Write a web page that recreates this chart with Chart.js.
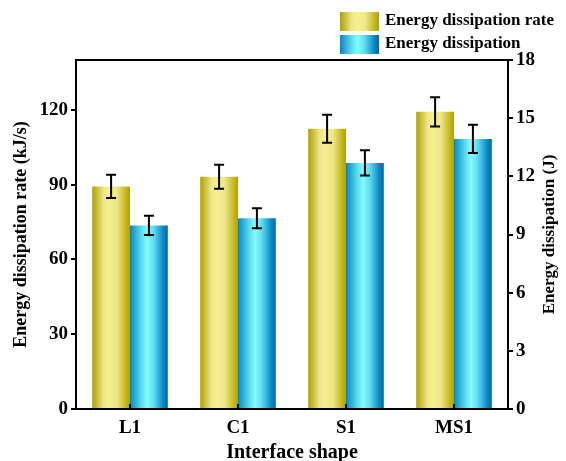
<!DOCTYPE html>
<html>
<head>
<meta charset="utf-8">
<script src="https://cdn.jsdelivr.net/npm/chart.js@4/dist/chart.umd.min.js"></script>
<style>
  html, body { margin: 0; padding: 0; background: #fff; }
  #wrap { width: 566px; height: 461px; }
</style>
</head>
<body>
<div id="wrap"><canvas id="chart" width="566" height="461"></canvas></div>
<script>
// data
const categories = ["L1", "C1", "S1", "MS1"];
const rateValues = [89.3, 93.2, 112.4, 119.2];
const rateErrors = [4.7, 4.8, 5.6, 5.9];
const energyValues = [9.47, 9.84, 12.69, 13.93];
const energyErrors = [0.5, 0.52, 0.65, 0.73];
const leftTicks = [0, 30, 60, 90, 120];
const rightTicks = [0, 3, 6, 9, 12, 15, 18];

const FONT = "'Liberation Serif', 'Times New Roman', serif";
const CAT_PCT = 0.7;

// horizontal gradients, like the original bar fill
const yellowStops = [[0, "#ada100"], [0.3, "#eee789"], [0.45, "#f6f090"], [0.65, "#eee68a"], [0.9, "#c2b51c"], [1, "#aea200"]];
const blueStops = [[0, "#0a86bd"], [0.3, "#5cdcf0"], [0.45, "#84fdff"], [0.62, "#60def2"], [0.88, "#0a88c4"], [1, "#0068a8"]];

function makeGradient(c, left, width, stops) {
  const g = c.createLinearGradient(left, 0, left + width, 0);
  stops.forEach(s => g.addColorStop(s[0], s[1]));
  return g;
}

function barFill(stops, side) {
  return function (ctx) {
    const chart = ctx.chart;
    if (!chart.chartArea || ctx.dataIndex === undefined) return stops[2][1];
    const xs = chart.scales.x;
    const center = xs.getPixelForValue(ctx.dataIndex);
    const w = xs.width / categories.length * CAT_PCT / 2;
    const left = side === 0 ? center - w : center;
    return makeGradient(chart.ctx, left, w, stops);
  };
}

const extras = {
  id: "extras",
  afterDatasetsDraw(chart) {
    const c = chart.ctx;
    const area = chart.chartArea;
    // error bars
    const sets = [[rateValues, rateErrors, chart.scales.y], [energyValues, energyErrors, chart.scales.y1]];
    c.save();
    c.strokeStyle = "#000";
    c.lineWidth = 2;
    sets.forEach((s, di) => {
      const meta = chart.getDatasetMeta(di);
      meta.data.forEach((bar, i) => {
        const top = s[2].getPixelForValue(s[0][i] + s[1][i]);
        const bot = s[2].getPixelForValue(s[0][i] - s[1][i]);
        c.beginPath();
        c.moveTo(bar.x, top); c.lineTo(bar.x, bot);
        c.moveTo(bar.x - 5, top); c.lineTo(bar.x + 5, top);
        c.moveTo(bar.x - 5, bot); c.lineTo(bar.x + 5, bot);
        c.stroke();
      });
    });
    // frame
    c.strokeRect(area.left, area.top, area.right - area.left, area.bottom - area.top);
    // inward ticks on the category axis
    const xs = chart.scales.x;
    categories.forEach((_, i) => {
      const x = xs.getPixelForValue(i);
      c.beginPath();
      c.moveTo(x, area.bottom);
      c.lineTo(x, area.bottom - 5);
      c.stroke();
    });
    c.restore();
  },
  afterDraw(chart) {
    const c = chart.ctx;
    const area = chart.chartArea;
    const items = [["Energy dissipation rate", yellowStops, 12], ["Energy dissipation", blueStops, 35]];
    c.save();
    c.font = "bold 17px " + FONT;
    c.fillStyle = "#000";
    c.textBaseline = "middle";
    items.forEach(it => {
      c.fillStyle = makeGradient(c, 340, 39, it[1]);
      c.fillRect(340, it[2], 39, 19);
      c.fillStyle = "#000";
      c.fillText(it[0], 385, it[2] + 9);
    });
    // right axis title, reading bottom to top as in the original
    c.translate(550, (area.top + area.bottom) / 2);
    c.rotate(-Math.PI / 2);
    c.textAlign = "center";
    c.font = "bold 17px " + FONT;
    c.fillText("Energy dissipation (J)", 0, 0);
    c.restore();
  }
};

new Chart(document.getElementById("chart"), {
  type: "bar",
  data: {
    labels: categories,
    datasets: [
      {
        label: "Energy dissipation rate",
        data: rateValues,
        yAxisID: "y",
        backgroundColor: barFill(yellowStops, 0),
        borderWidth: 0,
        categoryPercentage: CAT_PCT,
        barPercentage: 1.0
      },
      {
        label: "Energy dissipation",
        data: energyValues,
        yAxisID: "y1",
        backgroundColor: barFill(blueStops, 1),
        borderWidth: 0,
        categoryPercentage: CAT_PCT,
        barPercentage: 1.0
      }
    ]
  },
  options: {
    responsive: false,
    animation: false,
    events: [],
    layout: { padding: { top: 60, left: 11, right: 6, bottom: 0 } },
    plugins: {
      legend: { display: false },
      tooltip: { enabled: false }
    },
    scales: {
      x: {
        grid: { display: false },
        border: { display: false },
        ticks: { color: "#000", font: { family: FONT, size: 19, weight: "bold" }, padding: 0 },
        title: { display: true, text: "Interface shape", color: "#000", font: { family: FONT, size: 20, weight: "bold", lineHeight: 0.8 }, padding: { top: 0, bottom: 0 } },
        afterFit: s => { s.height = 52; }
      },
      y: {
        position: "left",
        min: 0,
        max: 140,
        afterBuildTicks: s => { s.ticks = leftTicks.map(v => ({ value: v })); },
        grid: { drawOnChartArea: false, tickLength: 5, color: "#000", lineWidth: 2 },
        border: { display: false },
        ticks: { color: "#000", font: { family: FONT, size: 19, weight: "bold" }, padding: 3 },
        title: { display: true, text: "Energy dissipation rate (kJ/s)", color: "#000", font: { family: FONT, size: 18, weight: "bold" }, padding: 0 },
        afterFit: s => { s.width = 65; }
      },
      y1: {
        position: "right",
        min: 0,
        max: 18,
        afterBuildTicks: s => { s.ticks = rightTicks.map(v => ({ value: v })); },
        grid: { drawOnChartArea: false, tickLength: 5, color: "#000", lineWidth: 2 },
        border: { display: false },
        ticks: { color: "#000", font: { family: FONT, size: 19, weight: "bold" }, padding: 3 },
        title: { display: false },
        afterFit: s => { s.width = 52; }
      }
    }
  },
  plugins: [extras]
});
</script>
</body>
</html>
